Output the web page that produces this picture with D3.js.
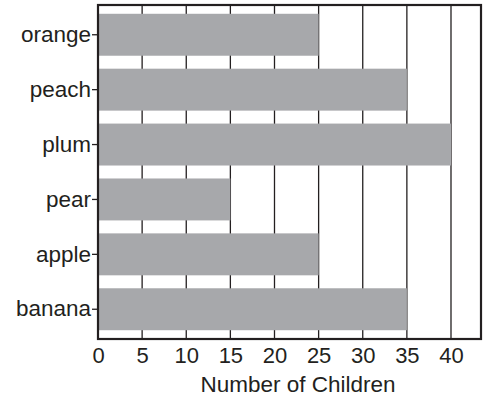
<!DOCTYPE html>
<html>
<head>
<meta charset="utf-8">
<script src="https://cdn.jsdelivr.net/npm/d3@7"></script>
<style>
  body { margin: 0; background: #fff; }
  text { font-family: "Liberation Sans", Arial, sans-serif; fill: #231f20; }
</style>
</head>
<body>
<div id="chart"></div>
<script>
// Datos
const frutas = ["orange", "peach", "plum", "pear", "apple", "banana"];
const ninos = [25, 35, 40, 15, 25, 35];
const ticksX = [0, 5, 10, 15, 20, 25, 30, 35, 40];

const ancho = 488;
const alto = 400;
const margen = { superior: 5, derecho: 7, inferior: 61, izquierdo: 98 };
const anchoGrafico = ancho - margen.izquierdo - margen.derecho;
const altoGrafico = alto - margen.superior - margen.inferior;

const svg = d3.select("#chart")
  .append("svg")
  .attr("width", ancho)
  .attr("height", alto);

const grafico = svg.append("g")
  .attr("transform", `translate(${margen.izquierdo},${margen.superior})`);

const escalaX = d3.scaleLinear()
  .domain([0, 43.4])
  .range([0, anchoGrafico]);

const escalaY = d3.scaleBand()
  .domain(frutas)
  .range([0, altoGrafico])
  .paddingInner(0.236)
  .paddingOuter(0.16);

// Lineas de la grilla
grafico.selectAll(".grid")
  .data(ticksX.slice(1))
  .enter()
  .append("line")
  .attr("class", "grid")
  .attr("x1", d => escalaX(d))
  .attr("x2", d => escalaX(d))
  .attr("y1", 0)
  .attr("y2", altoGrafico)
  .attr("stroke", "#231f20")
  .attr("stroke-width", 1.3);

// Barras
grafico.selectAll(".barra")
  .data(frutas)
  .enter()
  .append("rect")
  .attr("class", "barra")
  .attr("x", 0)
  .attr("y", d => escalaY(d))
  .attr("width", (d, i) => escalaX(ninos[i]))
  .attr("height", escalaY.bandwidth())
  .attr("fill", "#a7a8ab");

// Marco
grafico.append("rect")
  .attr("x", 0)
  .attr("y", 0)
  .attr("width", anchoGrafico)
  .attr("height", altoGrafico)
  .attr("fill", "none")
  .attr("stroke", "#231f20")
  .attr("stroke-width", 2.2);

// Eje Y
const ejeY = grafico.append("g")
  .call(d3.axisLeft(escalaY).tickSize(6).tickPadding(1));
ejeY.select(".domain").remove();
ejeY.selectAll("line").attr("stroke", "#231f20").attr("stroke-width", 1.3);
ejeY.selectAll("text")
  .attr("font-size", "22.5px")
  .style("fill", "#231f20");

// Eje X
const ejeX = grafico.append("g")
  .attr("transform", `translate(0, ${altoGrafico})`)
  .call(d3.axisBottom(escalaX).tickValues(ticksX).tickSize(0).tickPadding(8));
ejeX.select(".domain").remove();
ejeX.selectAll("text")
  .attr("font-size", "22px")
  .style("fill", "#231f20");

// Titulo eje X
svg.append("text")
  .attr("x", 298)
  .attr("y", 392)
  .attr("text-anchor", "middle")
  .attr("font-size", "22.5px")
  .text("Number of Children");
</script>
</body>
</html>
